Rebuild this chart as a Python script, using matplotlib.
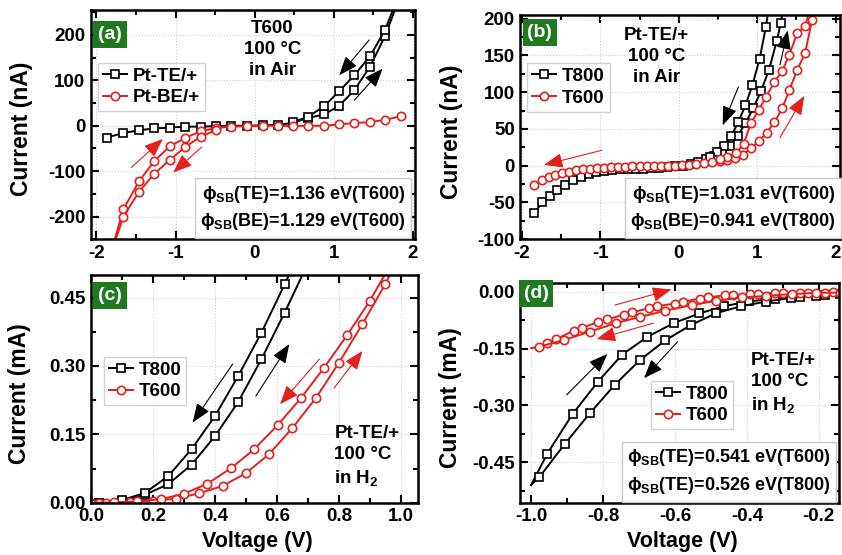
import numpy as np
import matplotlib
matplotlib.use("Agg")
import matplotlib.pyplot as plt
from matplotlib.ticker import MultipleLocator, FormatStrFormatter

plt.rcParams['font.family'] = ['Liberation Sans', 'DejaVu Sans']
plt.rcParams['font.weight'] = 'bold'
plt.rcParams['axes.unicode_minus'] = False
plt.rcParams['mathtext.fontset'] = 'custom'
plt.rcParams['mathtext.rm'] = 'Liberation Sans:bold'
plt.rcParams['mathtext.it'] = 'Liberation Sans:bold'
plt.rcParams['mathtext.bf'] = 'Liberation Sans:bold'
plt.rcParams['mathtext.default'] = 'regular'

RED = '#e3201c'
GREEN = '#1f7a1f'

# ---- panel (a): T600, 100 C, in air (nA)
a_te_x_fwd = [-1.87, -1.66, -1.46, -1.27, -1.07, -0.88, -0.68, -0.49, -0.3, -0.1, 0.1, 0.29,
              0.48, 0.67, 0.88, 1.07, 1.26, 1.46, 1.65, 1.85]
a_te_y_fwd = [-26, -16, -10, -6, -4, -2, -2, -1, 0, 0, 1, 2, 6, 17, 25, 44, 78, 130, 198, 290]
a_te_x_rev = [1.85, 1.65, 1.46, 1.26, 1.07, 0.88, 0.67, 0.48]
a_te_y_rev = [300, 211, 153, 111, 76, 43, 19, 8]
a_be_x_fwd = [-1.85, -1.66, -1.46, -1.27, -1.07, -0.88, -0.68, -0.49, -0.3, -0.1, 0.1, 0.29,
              0.48, 0.67, 0.88, 1.07, 1.26, 1.46, 1.65, 1.85]
a_be_y_fwd = [-300, -184, -122, -78, -45, -27, -12, -5, -2, -1, 0, 0, -1, 0, 0, 3, 6, 8, 13, 21]
a_be_x_rev = [-1.85, -1.66, -1.46, -1.27, -1.07, -0.88, -0.68, -0.49]
a_be_y_rev = [-300, -200, -145, -106, -75, -47, -24, -10]

# ---- panel (b): Pt-TE/+, 100 C, in air (nA)
b_800_x_fwd = [-1.84, -1.74, -1.64, -1.55, -1.45, -1.35, -1.25, -1.15, -1.05, -0.95, -0.85,
               -0.75, -0.65, -0.55, -0.45, -0.35, -0.25, -0.15, -0.05, 0.05, 0.15, 0.25, 0.35,
               0.45, 0.55, 0.65, 0.75, 0.85, 0.95, 1.05, 1.15, 1.25, 1.3, 1.36]
b_800_y_fwd = [-65, -49, -41, -33, -26, -19, -15, -11, -9, -7, -6, -5, -5, -4, -4, -3, -3, -2,
               -1, 0, 2, 5, 9, 13, 18, 27, 40, 58, 78, 102, 130, 170, 194, 230]
b_800_x_rev = [1.17, 1.11, 1.03, 0.94, 0.85, 0.76, 0.67, 0.58, 0.49, 0.40]
b_800_y_rev = [230, 188, 145, 110, 82, 60, 40, 27, 18, 12]
b_600_x_fwd = [-1.84, -1.75, -1.66, -1.58, -1.49, -1.4, -1.31, -1.22, -1.13, -1.04, -0.95,
               -0.86, -0.77, -0.68, -0.59, -0.5, -0.41, -0.32, -0.23, -0.14, -0.05, 0.04,
               0.13, 0.22, 0.32, 0.42, 0.52, 0.62, 0.72, 0.82, 0.92, 1.02, 1.12, 1.22, 1.32,
               1.41, 1.51, 1.61, 1.7, 1.73]
b_600_y_fwd = [-26, -20, -16, -13, -10, -8, -6, -5, -4, -3, -3, -2, -2, -2, -1, -1, -1, -1,
               0, 0, 0, 1, 1, 2, 3, 5, 7, 8, 10, 15, 24, 33, 45, 59, 78, 103, 130, 153, 198, 215]
b_600_x_rev = [1.68, 1.61, 1.51, 1.41, 1.32, 1.22, 1.11, 1.02, 0.92, 0.83, 0.73, 0.62, 0.52]
b_600_y_rev = [215, 190, 180, 151, 129, 114, 93, 76, 58, 30, 17, 12, 9]

# ---- panel (c): Pt-TE/+, 100 C, in H2 (mA)
c_800_x_fwd = [0.025, 0.1, 0.175, 0.25, 0.325, 0.4, 0.475, 0.55, 0.625, 0.70]
c_800_y_fwd = [0.0, 0.005, 0.018, 0.041, 0.084, 0.146, 0.221, 0.315, 0.417, 0.525]
c_800_x_rev = [0.66, 0.625, 0.55, 0.475, 0.4, 0.325, 0.25, 0.175, 0.1, 0.025]
c_800_y_rev = [0.53, 0.479, 0.373, 0.278, 0.19, 0.118, 0.059, 0.022, 0.006, 0.0]
c_600_x_fwd = [0.025, 0.05, 0.125, 0.2, 0.275, 0.35, 0.425, 0.5, 0.575, 0.65, 0.725, 0.8,
               0.876, 0.95, 0.98]
c_600_y_fwd = [0.0, 0.0, 0.002, 0.005, 0.009, 0.021, 0.037, 0.065, 0.107, 0.164, 0.229,
               0.307, 0.392, 0.48, 0.52]
c_600_x_rev = [0.965, 0.9, 0.826, 0.752, 0.677, 0.602, 0.526, 0.452, 0.376, 0.3, 0.226,
               0.15, 0.075, 0.0]
c_600_y_rev = [0.52, 0.443, 0.367, 0.296, 0.229, 0.17, 0.117, 0.076, 0.042, 0.02, 0.008,
               0.003, 0.001, 0.0]

# ---- panel (d): Pt-TE/+, 100 C, in H2, negative bias (mA)
d_800_x_fwd = [-1.0, -0.955, -0.885, -0.814, -0.747, -0.677, -0.604, -0.532, -0.463, -0.393,
               -0.323, -0.253, -0.183]
d_800_y_fwd = [-0.51, -0.427, -0.323, -0.237, -0.166, -0.119, -0.083, -0.057, -0.038, -0.025,
               -0.019, -0.013, -0.008]
d_800_x_rev = [-0.14, -0.207, -0.277, -0.347, -0.416, -0.487, -0.556, -0.627, -0.697, -0.767,
               -0.837, -0.906, -0.977, -1.0]
d_800_y_rev = [-0.006, -0.01, -0.016, -0.026, -0.038, -0.057, -0.088, -0.128, -0.18, -0.245,
               -0.321, -0.401, -0.489, -0.51]
d_600_x_fwd = [-0.956, -0.931, -0.882, -0.859, -0.813, -0.788, -0.742, -0.719, -0.673, -0.65,
               -0.6, -0.577, -0.531, -0.508, -0.462, -0.439, -0.392, -0.369, -0.323, -0.3,
               -0.253, -0.23, -0.184, -0.161]
d_600_y_fwd = [-0.134, -0.125, -0.103, -0.096, -0.079, -0.073, -0.06, -0.054, -0.044, -0.038,
               -0.031, -0.026, -0.018, -0.015, -0.009, -0.009, -0.006, -0.006, -0.003, -0.003,
               -0.003, -0.002, -0.002, -0.001]
d_600_x_rev = [-0.14, -0.207, -0.276, -0.346, -0.415, -0.485, -0.554, -0.627, -0.696, -0.765,
               -0.836, -0.908, -0.978, -1.0]
d_600_y_rev = [-0.002, -0.003, -0.006, -0.011, -0.015, -0.024, -0.035, -0.05, -0.066, -0.083,
               -0.105, -0.127, -0.145, -0.149]


fig = plt.figure(figsize=(8.42, 5.55), dpi=100)
ax_a = fig.add_axes([0.108, 0.569, 0.385, 0.413])
ax_b = fig.add_axes([0.618, 0.569, 0.380, 0.404])
ax_c = fig.add_axes([0.108, 0.094, 0.388, 0.411])
ax_d = fig.add_axes([0.618, 0.094, 0.378, 0.396])

sq = dict(color='black', marker='s', ms=5.2, mfc='white', mec='black', mew=1.2, lw=1.4)
ci = dict(color=RED, marker='o', ms=6, mfc='white', mec=RED, mew=1.2, lw=1.4)


def style(ax, xmaj, ymaj, xfmt, yfmt):
    ax.xaxis.set_major_locator(MultipleLocator(xmaj))
    ax.xaxis.set_minor_locator(MultipleLocator(xmaj / 2))
    ax.yaxis.set_major_locator(MultipleLocator(ymaj))
    ax.yaxis.set_minor_locator(MultipleLocator(ymaj / 2))
    ax.xaxis.set_major_formatter(FormatStrFormatter(xfmt))
    ax.yaxis.set_major_formatter(FormatStrFormatter(yfmt))
    ax.tick_params(which='both', direction='in', top=True, right=True, width=1.5)
    ax.tick_params(which='major', length=6, labelsize=13.5, pad=4)
    ax.tick_params(which='minor', length=3.5)
    for s in ax.spines.values():
        s.set_linewidth(1.8)
    ax.grid(True, ls=':', color='#d0d0d0', lw=0.8)
    ax.set_axisbelow(True)


def ylab(ax, s, x):
    ax.set_ylabel(s, fontsize=16.5, fontweight='bold')
    ax.yaxis.set_label_coords(x, 0.48)


def xlab(ax, s, y):
    ax.set_xlabel(s, fontsize=15.5, fontweight='bold')
    ax.xaxis.set_label_coords(0.51, y)


def tag(ax, x, y, s):
    ax.text(x, y, s, transform=ax.transAxes, color='white', fontsize=14, fontweight='bold',
            va='top', ha='left', bbox=dict(boxstyle='square,pad=0.25', fc=GREEN, ec='none'))


def arrow(ax, start, end, color, lw=0.8):
    ax.annotate('', xy=end, xytext=start,
                arrowprops=dict(arrowstyle='-|>,head_length=0.9,head_width=0.35', color=color,
                                lw=lw, mutation_scale=13, shrinkA=0, shrinkB=0))


def phibox(ax, x, y, lines):
    ax.text(x, y, '\n'.join(lines), transform=ax.transAxes, ha='right', va='bottom',
            fontsize=13, fontweight='bold', linespacing=1.45,
            bbox=dict(boxstyle='square,pad=0.3', fc='white', ec='#c8c8c8', lw=1))


def legend(ax, x, y):
    lg = ax.legend(loc='upper left', bbox_to_anchor=(x, y), fontsize=13.5, frameon=True,
                   fancybox=False, edgecolor='#c8c8c8', handlelength=1.3, handletextpad=0.3,
                   borderpad=0.25, labelspacing=0.25, borderaxespad=0)
    lg.get_frame().set_linewidth(1)


# (a)
ax = ax_a
ax.plot(a_te_x_fwd, a_te_y_fwd, label='Pt-TE/+', **sq)
ax.plot(a_te_x_rev, a_te_y_rev, **sq)
ax.plot(a_be_x_fwd, a_be_y_fwd, label='Pt-BE/+', **ci)
ax.plot(a_be_x_rev, a_be_y_rev, **ci)
ax.set_xlim(-2.07, 2.03)
ax.set_ylim(-250, 255)
style(ax, 1, 100, '%d', '%d')
ylab(ax, 'Current (nA)', -0.18)
tag(ax, 0.022, 0.93, '(a)')
legend(ax, 0.022, 0.77)
ax.text(0.56, 0.955, 'T600\n100 °C\nin Air', transform=ax.transAxes, ha='center', va='top',
        fontsize=13.5, fontweight='bold', linespacing=1.3)
arrow(ax, (1.45, 189), (1.07, 111), 'black')
arrow(ax, (1.26, 56), (1.62, 126), 'black')
arrow(ax, (-1.56, -92), (-1.16, -29), RED)
arrow(ax, (-0.67, -47), (-1.03, -103), RED)
phibox(ax, 0.97, 0.03, ['ϕ$_{SB}$(TE)=1.136 eV(T600)', 'ϕ$_{SB}$(BE)=1.129 eV(T600)'])

# (b)
ax = ax_b
ax.plot(b_800_x_fwd, b_800_y_fwd, label='T800', **sq)
ax.plot(b_800_x_rev, b_800_y_rev, **sq)
ax.plot(b_600_x_fwd, b_600_y_fwd, label='T600', **ci)
ax.plot(b_600_x_rev, b_600_y_rev, **ci)
ax.set_xlim(-2.02, 2.06)
ax.set_ylim(-100, 205)
style(ax, 1, 50, '%d', '%d')
ylab(ax, 'Current (nA)', -0.18)
tag(ax, 0.022, 0.96, '(b)')
legend(ax, 0.022, 0.785)
ax.text(0.425, 0.945, 'Pt-TE/+\n100 °C\nin Air', transform=ax.transAxes, ha='center', va='top',
        fontsize=13.5, fontweight='bold', linespacing=1.3)
arrow(ax, (0.76, 107), (0.56, 55), 'black')
arrow(ax, (1.29, 137), (1.39, 184), 'black')
arrow(ax, (1.29, 38), (1.6, 95), RED)
arrow(ax, (-0.98, 21), (-1.72, 1), RED)
phibox(ax, 0.985, 0.03, ['ϕ$_{SB}$(TE)=1.031 eV(T600)', 'ϕ$_{SB}$(BE)=0.941 eV(T800)'])

# (c)
ax = ax_c
ax.plot(c_800_x_fwd, c_800_y_fwd, label='T800', **sq)
ax.plot(c_800_x_rev, c_800_y_rev, **sq)
ax.plot(c_600_x_fwd, c_600_y_fwd, label='T600', **ci)
ax.plot(c_600_x_rev, c_600_y_rev, **ci)
ax.set_xlim(0, 1.054)
ax.set_ylim(0, 0.5)
style(ax, 0.2, 0.15, '%.1f', '%.2f')
ylab(ax, 'Current (mA)', -0.183)
xlab(ax, 'Voltage (V)', -0.125)
tag(ax, 0.022, 0.945, '(c)')
legend(ax, 0.04, 0.64)
ax.text(0.745, 0.34, 'Pt-TE/+\n100 °C\nin H$_2$', transform=ax.transAxes, ha='left', va='top',
        fontsize=13.5, fontweight='bold', linespacing=1.3)
arrow(ax, (0.457, 0.304), (0.328, 0.176), 'black')
arrow(ax, (0.532, 0.234), (0.64, 0.348), 'black')
arrow(ax, (0.737, 0.315), (0.61, 0.216), RED)
arrow(ax, (0.785, 0.252), (0.876, 0.333), RED)

# (d)
ax = ax_d
ax.plot(d_800_x_fwd, d_800_y_fwd, label='T800', markevery=slice(1, None), **sq)
ax.plot(d_800_x_rev, d_800_y_rev, markevery=slice(0, -1), **sq)
ax.plot(d_600_x_fwd, d_600_y_fwd, label='T600', **ci)
ax.plot(d_600_x_rev, d_600_y_rev, markevery=slice(0, -1), **ci)
ax.set_xlim(-1.03, -0.145)
ax.set_ylim(-0.557, 0.023)
style(ax, 0.2, 0.15, '%.1f', '%.2f')
ylab(ax, 'Current (mA)', -0.182)
xlab(ax, 'Voltage (V)', -0.13)
tag(ax, 0.01, 0.99, '(d)')
legend(ax, 0.41, 0.555)
ax.text(0.724, 0.685, 'Pt-TE/+\n100 °C\nin H$_2$', transform=ax.transAxes, ha='left', va='top',
        fontsize=13.5, fontweight='bold', linespacing=1.3)
arrow(ax, (-0.767, -0.035), (-0.61, 0.006), RED)
arrow(ax, (-0.66, -0.083), (-0.818, -0.125), RED)
arrow(ax, (-0.901, -0.272), (-0.788, -0.164), 'black')
arrow(ax, (-0.593, -0.132), (-0.686, -0.228), 'black')
phibox(ax, 0.975, 0.03, ['ϕ$_{SB}$(TE)=0.541 eV(T600)', 'ϕ$_{SB}$(TE)=0.526 eV(T800)'])

fig.savefig('out.png', dpi=100)
